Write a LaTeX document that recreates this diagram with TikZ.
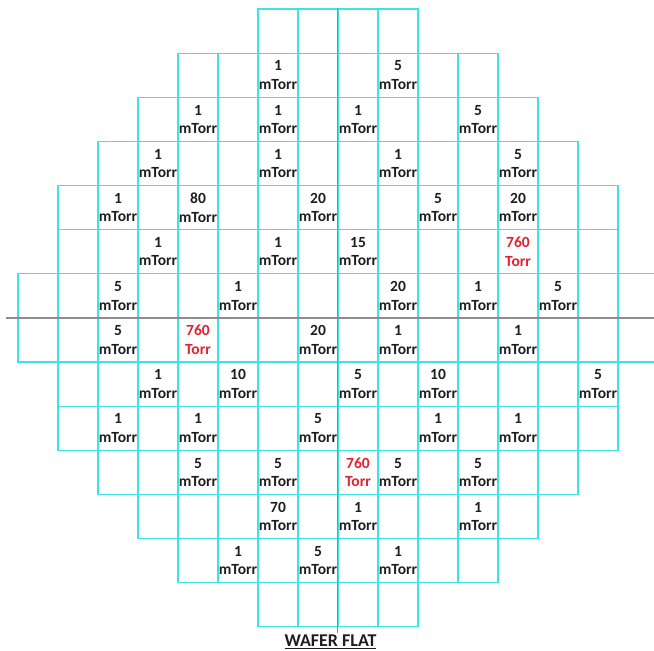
\documentclass[tikz,border=0pt]{standalone}
\usepackage{fontspec}
\setmainfont{Carlito}
\usepackage{xcolor}
\usepackage{tikz}
\definecolor{gridcyan}{HTML}{3FE3E3}
\definecolor{axisgray}{HTML}{8C8C8C}
\definecolor{ventred}{HTML}{E3202B}
\definecolor{labelblack}{HTML}{1E1E1E}

\begin{document}
\begin{tikzpicture}[x=1pt, y=-1pt,
  cell/.style={draw=gridcyan, line width=1.2pt},
  axis/.style={draw=axisgray, line width=1.4pt},
  press/.style={align=center, inner sep=0pt, text=labelblack,
                font=\bfseries\fontsize{15.5}{18.5}\selectfont},
  vent/.style={press, text=ventred},
  flat/.style={anchor=base, inner sep=0pt, text=labelblack,
               font=\bfseries\fontsize{18}{21}\selectfont}]
  \useasboundingbox (0,0) rectangle (654,651);
  \clip (0,0) rectangle (654,651);
  \foreach \r/\a/\b in {0/6/9, 1/4/11, 2/3/12, 3/2/13, 4/1/14, 5/1/14, 6/0/15,
                        7/0/15, 8/1/14, 9/1/14, 10/2/13, 11/3/12, 12/4/11, 13/6/9}
    \foreach \c in {\a,...,\b}
      \draw[cell] ({18+40*\c},{9+44.125*\r}) rectangle ++(40,44.125);
  \draw[axis] (6,318) -- (654,318);
  \draw[axis] (337.5,8) -- (337.5,633);
  \foreach \c/\r/\v in {6/1/1, 9/1/5,
                        4/2/1, 6/2/1, 8/2/1, 11/2/5,
                        3/3/1, 6/3/1, 9/3/1, 12/3/5,
                        2/4/1, 4/4/80, 7/4/20, 10/4/5, 12/4/20,
                        3/5/1, 6/5/1, 8/5/15,
                        2/6/5, 5/6/1, 9/6/20, 11/6/1, 13/6/5,
                        2/7/5, 7/7/20, 9/7/1, 12/7/1,
                        3/8/1, 5/8/10, 8/8/5, 10/8/10, 14/8/5,
                        2/9/1, 4/9/1, 7/9/5, 10/9/1, 12/9/1,
                        4/10/5, 6/10/5, 9/10/5, 11/10/5,
                        6/11/70, 8/11/1, 11/11/1,
                        5/12/1, 7/12/5, 9/12/1}
    \node[press] (p\r-\c) at ({38+40*\c},{31.06+44.125*\r}) {\v\\mTorr};
  \foreach \c/\r in {12/5, 4/7, 8/10}
    \node[vent] (v\r-\c) at ({38+40*\c},{31.06+44.125*\r}) {760\\Torr};
  \node[flat] (flat) at (330.5,646.5) {\underline{WAFER FLAT}};
\end{tikzpicture}
\end{document}
